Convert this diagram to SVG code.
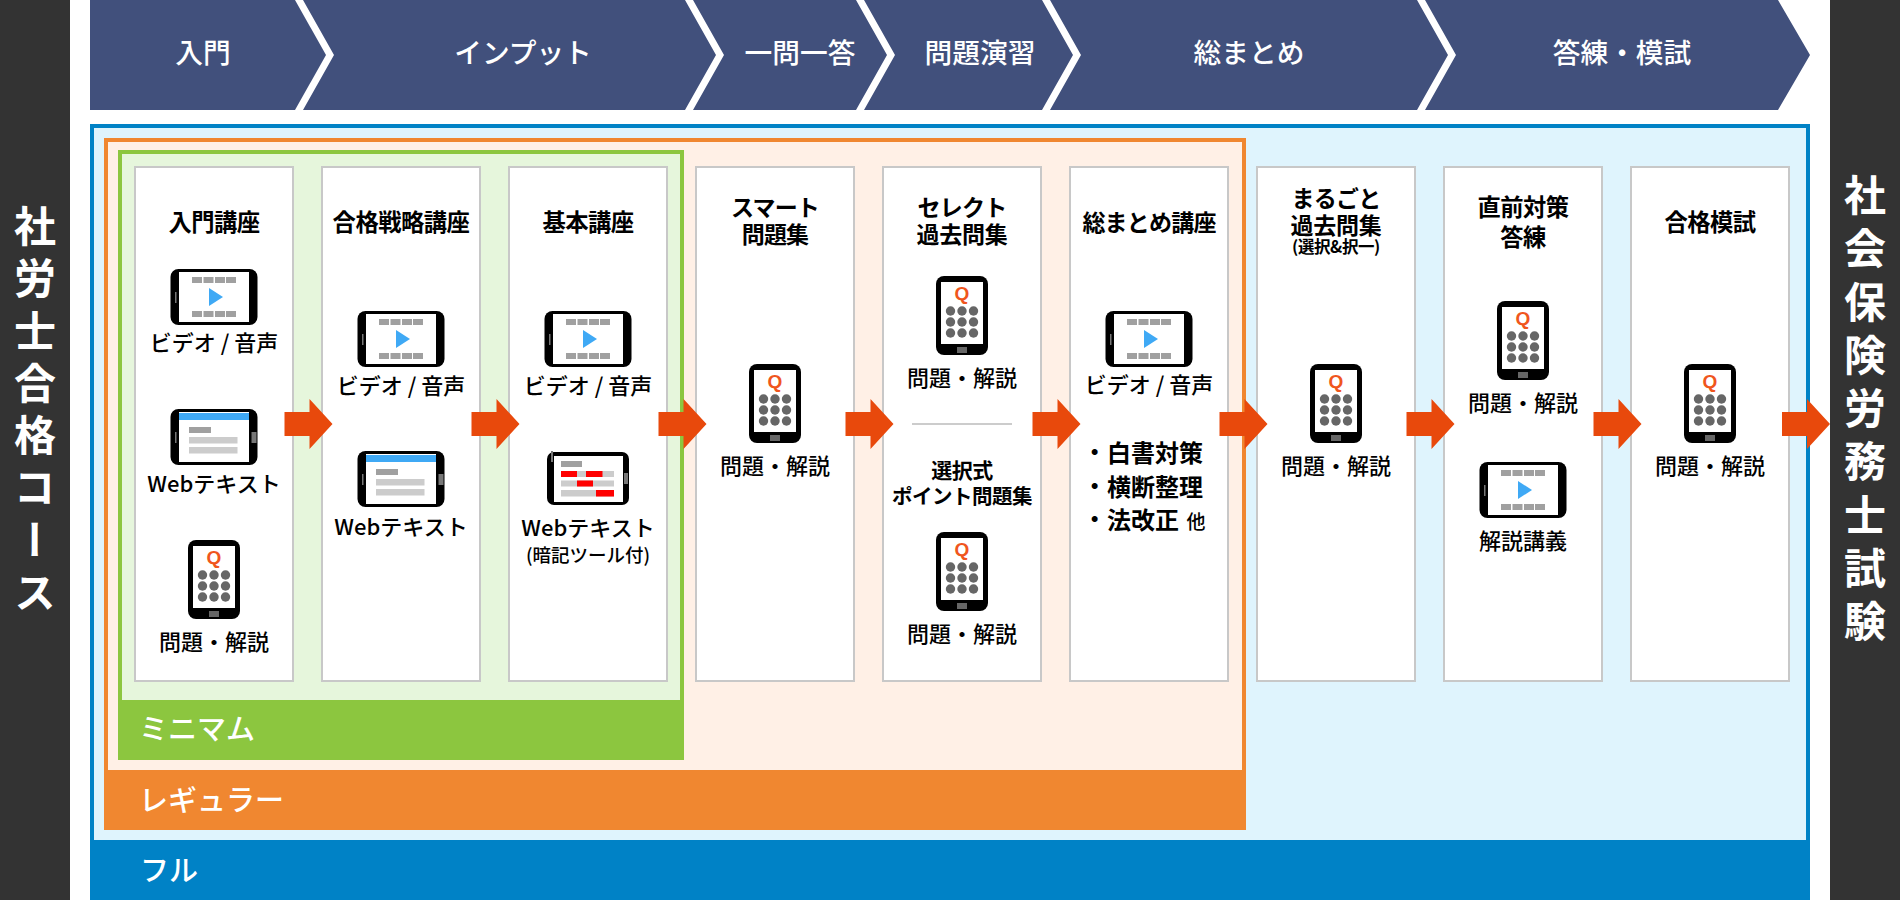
<svg xmlns="http://www.w3.org/2000/svg" width="1900" height="900" viewBox="0 0 1900 900">
<style>
text{font-family:"Noto Sans CJK JP","Noto Sans",sans-serif;text-anchor:middle}
.ch{fill:#fff;font-size:27.7px;font-weight:500}
.side{fill:#fff;font-size:42px;font-weight:700;writing-mode:vertical-rl;text-anchor:start;letter-spacing:11px}
.band{fill:#fff;font-size:29px;font-weight:500;text-anchor:start}
.t{fill:#000;font-size:23.3px;font-weight:700;letter-spacing:-.5px}
.t2{fill:#000;font-size:23px;font-weight:700;letter-spacing:-.8px}
.l{fill:#000;font-size:22px;font-weight:500}
.w{fill:#000;font-size:22px;font-weight:500}
.card{fill:#fff;stroke:#c8c8c8;stroke-width:2}
.g1{fill:#a0a0a0}.g2{fill:#cccccc}.bl{fill:#3fa9f5}.re{fill:#ff0000}.dk{fill:#666}
.q{fill:#f0561d;font-family:"Liberation Sans",sans-serif;font-size:19px;font-weight:700}
.arrow{fill:#e8490c}
</style>
<defs>
<g id="tablet">
<rect x="-43.5" y="0" width="87" height="56" rx="8" fill="#000"/>
<rect x="-35" y="3" width="70" height="50" fill="#fff"/>
<rect x="-39" y="23" width="1.5" height="11" fill="#777"/>
</g>
<g id="video">
<use href="#tablet"/>
<g class="g1">
<rect x="-22" y="8" width="10" height="6"/><rect x="-10.5" y="8" width="10" height="6"/><rect x="1" y="8" width="10" height="6"/><rect x="12" y="8" width="10" height="6"/>
<rect x="-22" y="42" width="10" height="6"/><rect x="-10.5" y="42" width="10" height="6"/><rect x="1" y="42" width="10" height="6"/><rect x="12" y="42" width="10" height="6"/>
</g>
<polygon class="bl" points="-5,19 9,28 -5,37"/>
</g>
<g id="web">
<use href="#tablet"/>
<rect class="bl" x="-35" y="4" width="70" height="7"/>
<rect class="g1" x="-25" y="18" width="22" height="6"/>
<rect class="g2" x="-25" y="28" width="48.5" height="6.5"/>
<rect class="g2" x="-25" y="38" width="48.5" height="6.5"/>
<rect x="37.5" y="23" width="5" height="11" fill="#777"/>
</g>
<g id="phone">
<rect x="-26" y="0" width="52" height="79" rx="8" fill="#000"/>
<rect x="-21" y="6" width="42" height="62" fill="#fff"/>
<text class="q" x="0" y="24">Q</text>
<g class="dk">
<circle cx="-11.5" cy="35" r="4.7"/><circle cx="0" cy="35" r="4.7"/><circle cx="11.5" cy="35" r="4.7"/>
<circle cx="-11.5" cy="46" r="4.7"/><circle cx="0" cy="46" r="4.7"/><circle cx="11.5" cy="46" r="4.7"/>
<circle cx="-11.5" cy="57" r="4.7"/><circle cx="0" cy="57" r="4.7"/><circle cx="11.5" cy="57" r="4.7"/>
<rect x="-5" y="71" width="10" height="6"/>
</g>
</g>
<polygon id="arr" points="0,12 25,12 25,-1 48,24 25,49 25,36 0,36"/>
</defs>

<rect width="1900" height="900" fill="#fff"/>

<g id="side-left"><rect x="0" y="0" width="70" height="900" fill="#333"/><text class="side" x="35" y="205" style="letter-spacing:10.3px">社労士合格コース</text></g>
<g id="side-right"><rect x="1830" y="0" width="70" height="900" fill="#333"/><text class="side" x="1865" y="174" style="letter-spacing:11.3px">社会保険労務士試験</text></g>

<g id="phases" fill="#41507c">
<g id="phase-1"><polygon points="90,0 295,0 326,55 295,110 90,110"/><text class="ch" x="203" y="63">入門</text></g>
<g id="phase-2"><polygon points="303,0 685,0 716,55 685,110 303,110 334,55"/><text class="ch" x="523" y="63">インプット</text></g>
<g id="phase-3"><polygon points="693,0 856,0 887,55 856,110 693,110 724,55"/><text class="ch" x="800" y="63">一問一答</text></g>
<g id="phase-4"><polygon points="864,0 1042,0 1073,55 1042,110 864,110 895,55"/><text class="ch" x="980" y="63">問題演習</text></g>
<g id="phase-5"><polygon points="1050,0 1417,0 1448,55 1417,110 1050,110 1081,55"/><text class="ch" x="1249" y="63">総まとめ</text></g>
<g id="phase-6"><polygon points="1425,0 1778,0 1810,55 1778,110 1425,110 1456,55"/><text class="ch" x="1622" y="63">答練・模試</text></g>
</g>

<g id="plan-full">
<rect x="92" y="126" width="1716" height="770" fill="#dff4fd" stroke="#0082c6" stroke-width="4"/>
<rect x="90" y="840" width="1720" height="60" fill="#0082c6"/>
<text class="band" x="140" y="881">フル</text>
</g>
<g id="plan-regular">
<rect x="106" y="140" width="1138" height="688" fill="#fff0e6" stroke="#f08730" stroke-width="4"/>
<rect x="104" y="770" width="1142" height="60" fill="#f08730"/>
<text class="band" x="139" y="811">レギュラー</text>
</g>
<g id="plan-minimum">
<rect x="120" y="152" width="562" height="606" fill="#e6f6dc" stroke="#8cc63f" stroke-width="4"/>
<rect x="118" y="700" width="566" height="60" fill="#8cc63f"/>
<text class="band" x="139" y="740">ミニマム</text>
</g>

<g id="card-1"><rect class="card" x="135" y="167" width="158" height="514"/>
<text class="t" x="214" y="231">入門講座</text>
<use href="#video" x="214" y="269"/><text class="l" x="214" y="351">ビデオ / 音声</text>
<use href="#web" x="214" y="409"/><text class="w" x="214" y="492">Webテキスト</text>
<use href="#phone" x="214" y="540"/><text class="l" x="214" y="650">問題・解説</text></g>

<g id="card-2"><rect class="card" x="322" y="167" width="158" height="514"/>
<text class="t" x="401" y="231">合格戦略講座</text>
<use href="#video" x="401" y="311"/><text class="l" x="401" y="394">ビデオ / 音声</text>
<use href="#web" x="401" y="451"/><text class="w" x="401" y="535">Webテキスト</text></g>

<g id="card-3"><rect class="card" x="509" y="167" width="158" height="514"/>
<text class="t" x="588" y="231">基本講座</text>
<use href="#video" x="588" y="311"/><text class="l" x="588" y="394">ビデオ / 音声</text>
<rect x="547" y="452" width="82" height="53" rx="7" fill="#000"/>
<rect x="554" y="456" width="69" height="46" fill="#fff"/>
<rect x="551" y="451" width="2" height="11" fill="#777"/>
<rect x="624" y="473" width="4" height="11" fill="#777"/>
<rect class="g1" x="561" y="461" width="21" height="6"/>
<rect class="g2" x="561" y="471" width="53" height="6"/><rect class="g2" x="561" y="480.5" width="53" height="6"/><rect class="g2" x="561" y="490" width="53" height="6.5"/>
<rect class="re" x="561" y="471" width="16" height="6"/><rect class="re" x="586" y="471" width="16.5" height="6"/><rect class="re" x="577" y="480.5" width="16" height="6"/><rect class="re" x="596" y="490" width="18" height="6.5"/>
<text class="w" x="588" y="536">Webテキスト</text><text class="l" x="588" y="562" style="font-size:18.5px">(暗記ツール付)</text></g>

<g id="card-4"><rect class="card" x="696" y="167" width="158" height="514"/>
<text class="t2" x="775" y="216">スマート<tspan x="775" dy="27">問題集</tspan></text>
<use href="#phone" x="775" y="364"/><text class="l" x="775" y="474">問題・解説</text></g>

<g id="card-5"><rect class="card" x="883" y="167" width="158" height="514"/>
<text class="t2" x="962" y="216">セレクト<tspan x="962" dy="27" style="letter-spacing:-.3px">過去問集</tspan></text>
<use href="#phone" x="962" y="276"/><text class="l" x="962" y="386">問題・解説</text>
<rect x="912" y="423" width="100" height="2" fill="#ccc"/>
<text class="t" x="962" y="478" style="font-size:21px">選択式<tspan x="962" dy="26" style="font-size:20.5px">ポイント問題集</tspan></text>
<use href="#phone" x="962" y="532"/><text class="l" x="962" y="642">問題・解説</text></g>

<g id="card-6"><rect class="card" x="1070" y="167" width="158" height="514"/>
<text class="t2" x="1149" y="231">総まとめ講座</text>
<use href="#video" x="1149" y="311"/><text class="l" x="1149" y="393">ビデオ / 音声</text>
<text class="t" x="1094.500" y="461">・</text><text class="t" x="1155" y="462" style="font-size:24px;letter-spacing:0">白書対策</text>
<text class="t" x="1094.500" y="495">・</text><text class="t" x="1155" y="496" style="font-size:24px;letter-spacing:0">横断整理</text>
<text class="t" x="1094.500" y="528">・</text><text class="t" x="1143" y="529" style="font-size:24px;letter-spacing:0">法改正</text><text class="t" x="1196" y="529" style="font-size:19px;font-weight:500;letter-spacing:0">他</text></g>

<g id="card-7"><rect class="card" x="1257" y="167" width="158" height="514"/>
<text class="t2" x="1336" y="207">まるごと<tspan x="1336" dy="27" style="letter-spacing:-.3px">過去問集</tspan><tspan x="1336" dy="19" style="font-size:16.5px;letter-spacing:-.4px">(選択&amp;択一)</tspan></text>
<use href="#phone" x="1336" y="364"/><text class="l" x="1336" y="474">問題・解説</text></g>

<g id="card-8"><rect class="card" x="1444" y="167" width="158" height="514"/>
<text class="t" x="1523" y="216">直前対策<tspan x="1523" dy="30">答練</tspan></text>
<use href="#phone" x="1523" y="301"/><text class="l" x="1523" y="411">問題・解説</text>
<use href="#video" x="1523" y="462"/><text class="l" x="1523" y="549">解説講義</text></g>

<g id="card-9"><rect class="card" x="1631" y="167" width="158" height="514"/>
<text class="t" x="1710" y="231">合格模試</text>
<use href="#phone" x="1710" y="364"/><text class="l" x="1710" y="474">問題・解説</text></g>

<g id="connectors" class="arrow">
<use href="#arr" x="284.5" y="400"/><use href="#arr" x="471.5" y="400"/><use href="#arr" x="658.5" y="400"/><use href="#arr" x="845.5" y="400"/><use href="#arr" x="1032.5" y="400"/><use href="#arr" x="1219.5" y="400"/><use href="#arr" x="1406.5" y="400"/><use href="#arr" x="1593.5" y="400"/><use href="#arr" x="1782" y="400"/>
</g>
</svg>
